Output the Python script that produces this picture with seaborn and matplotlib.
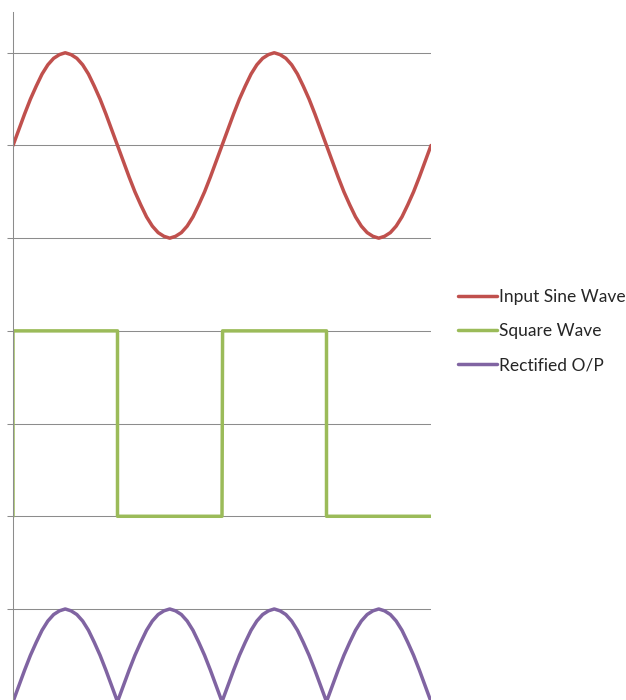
import seaborn as sns
import matplotlib.pyplot as plt

# phase angle in degrees (two full cycles)
angle = [0, 10, 20, 30, 40, 50, 60, 70, 80, 90, 100, 110, 120, 130, 140, 150, 160, 170,
         180, 190, 200, 210, 220, 230, 240, 250, 260, 270, 280, 290, 300, 310, 320, 330, 340, 350,
         360, 370, 380, 390, 400, 410, 420, 430, 440, 450, 460, 470, 480, 490, 500, 510, 520, 530,
         540, 550, 560, 570, 580, 590, 600, 610, 620, 630, 640, 650, 660, 670, 680, 690, 700, 710,
         720]

sine_wave = [6.00, 6.17, 6.34, 6.50, 6.64, 6.77, 6.87, 6.94, 6.98, 7.00, 6.98, 6.94, 6.87, 6.77, 6.64, 6.50, 6.34, 6.17,
             6.00, 5.83, 5.66, 5.50, 5.36, 5.23, 5.13, 5.06, 5.02, 5.00, 5.02, 5.06, 5.13, 5.23, 5.36, 5.50, 5.66, 5.83,
             6.00, 6.17, 6.34, 6.50, 6.64, 6.77, 6.87, 6.94, 6.98, 7.00, 6.98, 6.94, 6.87, 6.77, 6.64, 6.50, 6.34, 6.17,
             6.00, 5.83, 5.66, 5.50, 5.36, 5.23, 5.13, 5.06, 5.02, 5.00, 5.02, 5.06, 5.13, 5.23, 5.36, 5.50, 5.66, 5.83,
             6.00]

rectified = [0.00, 0.17, 0.34, 0.50, 0.64, 0.77, 0.87, 0.94, 0.98, 1.00, 0.98, 0.94, 0.87, 0.77, 0.64, 0.50, 0.34, 0.17,
             0.00, 0.17, 0.34, 0.50, 0.64, 0.77, 0.87, 0.94, 0.98, 1.00, 0.98, 0.94, 0.87, 0.77, 0.64, 0.50, 0.34, 0.17,
             0.00, 0.17, 0.34, 0.50, 0.64, 0.77, 0.87, 0.94, 0.98, 1.00, 0.98, 0.94, 0.87, 0.77, 0.64, 0.50, 0.34, 0.17,
             0.00, 0.17, 0.34, 0.50, 0.64, 0.77, 0.87, 0.94, 0.98, 1.00, 0.98, 0.94, 0.87, 0.77, 0.64, 0.50, 0.34, 0.17,
             0.00]

square_x = [0, 0, 180, 180, 360, 361, 540, 540, 720]
square_y = [2, 4, 4, 2, 2, 4, 4, 2, 2]

labels = ['Input Sine Wave', 'Square Wave', 'Rectified O/P']
colors = ['#C0504D', '#9BBB59', '#8064A2']

sns.set_style('white')
plt.rcParams['font.family'] = ['Lato', 'DejaVu Sans']

fig = plt.figure(figsize=(6.26, 7.0), dpi=100)
ax = fig.add_axes([13 / 626, -0.0024, 418 / 626, 0.9853])

lw = 2.5
sns.lineplot(x=angle, y=sine_wave, ax=ax, color=colors[0], lw=lw,
             label=labels[0], estimator=None, sort=False)
sns.lineplot(x=square_x, y=square_y, ax=ax, color=colors[1], lw=lw,
             label=labels[1], estimator=None, sort=False)
sns.lineplot(x=angle, y=rectified, ax=ax, color=colors[2], lw=lw,
             label=labels[2], estimator=None, sort=False)

ax.set_xlim(0, 720)
ax.set_ylim(0, 7.44)
ax.set_yticks(range(0, 8))
ax.set_xticks([])
ax.yaxis.grid(True, color='#8c8c8c', lw=0.75)
ax.set_axisbelow(True)
ax.tick_params(axis='y', left=True, length=4, width=0.75, color='#8c8c8c',
               labelleft=False, direction='out')
for side in ['top', 'right', 'bottom']:
    ax.spines[side].set_visible(False)
ax.spines['left'].set_color('#8c8c8c')
ax.spines['left'].set_linewidth(0.75)

handles, labs = ax.get_legend_handles_labels()
ax.get_legend().remove()
fig.legend(handles, labs, loc='center left', bbox_to_anchor=(458 / 626, 0.527),
           frameon=False, fontsize=12.5, handlelength=2.25, handletextpad=0.1,
           labelspacing=1.06, borderpad=0, borderaxespad=0)

fig.savefig('out.png', dpi=100)
